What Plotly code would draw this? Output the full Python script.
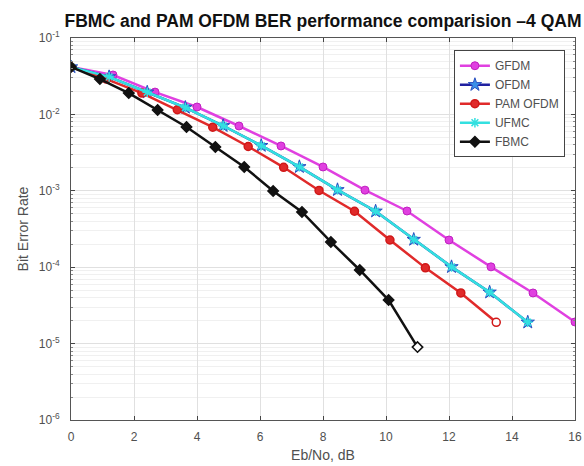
import plotly.graph_objects as go

# ---- data ----
ebno_gfdm = [0, 1.333, 2.667, 4.0, 5.333, 6.667, 8.0, 9.333, 10.667, 12.0, 13.333, 14.667, 16.0]
ber_gfdm = [0.0417, 0.0328, 0.0196, 0.0125, 0.00705, 0.00386, 0.00205, 0.00102, 0.000544, 0.000227, 0.000101, 4.6e-5, 1.92e-5]

ebno_ofdm = [0, 1.21, 2.42, 3.63, 4.83, 6.04, 7.25, 8.46, 9.67, 10.88, 12.08, 13.29, 14.5]
ber_ofdm = [0.0417, 0.031, 0.0195, 0.0123, 0.0071, 0.0039, 0.00206, 0.00103, 0.00054, 0.00023, 0.000101, 4.7e-5, 1.9e-5]

ebno_pam = [0, 1.125, 2.25, 3.375, 4.5, 5.625, 6.75, 7.875, 9.0, 10.125, 11.25, 12.375, 13.5]
ber_pam = [0.0417, 0.029, 0.019, 0.0115, 0.0068, 0.0038, 0.00203, 0.00101, 0.00054, 0.000227, 9.8e-5, 4.6e-5, 1.9e-5]

ebno_ufmc = [0, 1.21, 2.42, 3.63, 4.83, 6.04, 7.25, 8.46, 9.67, 10.88, 12.08, 13.29, 14.5]
ber_ufmc = [0.0417, 0.031, 0.0195, 0.0123, 0.0071, 0.0039, 0.00206, 0.00103, 0.00054, 0.00023, 0.000101, 4.7e-5, 1.9e-5]

ebno_fbmc = [0, 0.917, 1.833, 2.75, 3.667, 4.583, 5.5, 6.417, 7.333, 8.25, 9.167, 10.083, 11.0]
ber_fbmc = [0.0417, 0.029, 0.019, 0.01143, 0.00685, 0.00374, 0.00205, 0.000994, 0.000528, 0.000214, 9.19e-5, 3.72e-5, 9.0e-6]

x_ticks = [0, 2, 4, 6, 8, 10, 12, 14, 16]
y_decades = [-6, -5, -4, -3, -2, -1]
y_tickvals = [10.0 ** d for d in y_decades]
y_ticktext = ["10<sup>%d</sup>" % d for d in y_decades]
y_minor = [m * 10.0 ** d for d in y_decades[:-1] for m in range(2, 10)]

FONT = "Liberation Sans, Arial, sans-serif"
TXT = "#505050"

def last_open(color, n):
    return [color] * (n - 1) + ["white"]

fig = go.Figure()
fig.add_trace(go.Scatter(
    x=ebno_gfdm, y=ber_gfdm, name="GFDM", mode="lines+markers",
    line=dict(color="#e040e0", width=2.5),
    marker=dict(symbol="circle", size=8, color="#e040e0",
                line=dict(color="#c020c0", width=1))))
fig.add_trace(go.Scatter(
    x=ebno_ofdm, y=ber_ofdm, name="OFDM", mode="lines+markers",
    line=dict(color="#2020a0", width=2.5),
    marker=dict(symbol="star", size=10, color="#3a90e8",
                line=dict(color="#2a50c0", width=1))))
fig.add_trace(go.Scatter(
    x=ebno_pam, y=ber_pam, name="PAM OFDM", mode="lines+markers",
    line=dict(color="#e02a2a", width=2.5),
    marker=dict(symbol="circle", size=8, color=last_open("#e02a2a", len(ebno_pam)),
                line=dict(color="#d01818", width=1.5))))
fig.add_trace(go.Scatter(
    x=ebno_ufmc, y=ber_ufmc, name="UFMC", mode="lines+markers",
    line=dict(color="#33e0e0", width=2.5),
    marker=dict(symbol="asterisk-open", size=8,
                line=dict(color="#40d8f0", width=1.5))))
fig.add_trace(go.Scatter(
    x=ebno_fbmc, y=ber_fbmc, name="FBMC", mode="lines+markers",
    line=dict(color="#111111", width=2.5),
    marker=dict(symbol="diamond", size=8, color=last_open("#111111", len(ebno_fbmc)),
                line=dict(color="#111111", width=1.5))))

fig.update_layout(
    width=584, height=466,
    margin=dict(l=71, r=9, t=38, b=46),
    paper_bgcolor="white", plot_bgcolor="white",
    font=dict(family=FONT, color=TXT, size=12),
    title=dict(text="<b>FBMC and PAM OFDM BER performance comparision –4 QAM</b>",
               x=0.5, xref="paper", xanchor="center",
               y=0.956, yanchor="middle",
               font=dict(family=FONT, size=17.5, color="#111111")),
    showlegend=True,
    legend=dict(x=0.98, y=0.968, xanchor="right", yanchor="top",
                bgcolor="white", bordercolor="#444444", borderwidth=1,
                font=dict(family=FONT, size=12, color=TXT),
                tracegroupgap=0, itemwidth=30),
)

fig.update_xaxes(
    range=[0, 16], tickvals=x_ticks, ticks="inside", ticklen=4,
    ticklabelstandoff=6, automargin=False,
    showline=True, linecolor="#555555", linewidth=1, mirror="allticks",
    showgrid=True, gridcolor="#e0e0e0", gridwidth=1, zeroline=False,
    title=dict(text="Eb/No, dB", standoff=6, font=dict(size=14, color=TXT)),
    tickfont=dict(size=12, color=TXT),
)
fig.update_yaxes(
    type="log", range=[-6, -1], tickvals=y_tickvals, ticktext=y_ticktext,
    ticks="inside", ticklen=4, ticklabelstandoff=8, automargin=False,
    showline=True, linecolor="#555555", linewidth=1, mirror="allticks",
    showgrid=True, gridcolor="#e0e0e0", gridwidth=1, zeroline=False,
    minor=dict(tickvals=y_minor, ticks="inside", ticklen=2, tickcolor="#888888",
               showgrid=True, gridcolor="#f0f0f0"),
    title=dict(text="Bit Error Rate", standoff=6, font=dict(size=14, color=TXT)),
    tickfont=dict(size=12, color=TXT),
)

fig.write_html("out.html")
